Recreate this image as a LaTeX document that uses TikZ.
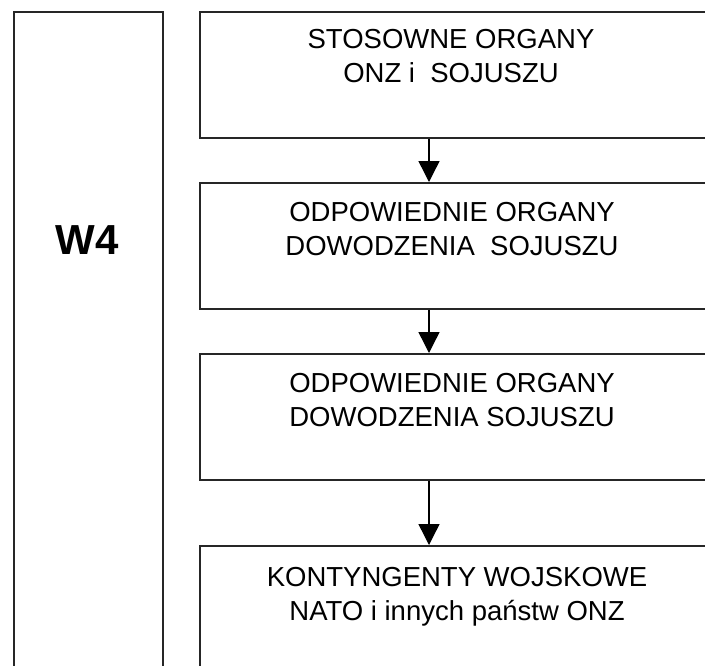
\documentclass[tikz,border=0pt]{standalone}
\usepackage{fontspec}
\setmainfont{Liberation Sans}
\usetikzlibrary{arrows.meta}
\begin{document}
\begin{tikzpicture}[x=1pt,y=-1pt,
  box/.style={draw=black!85, line width=1.6pt, rectangle, inner sep=0pt, anchor=north west, minimum width=560pt},
  lbl/.style={align=center, font=\fontsize{27.5}{34}\selectfont, inner sep=0pt},
  arr/.style={line width=1.4pt, -{Triangle[width=21pt,length=21pt]}}]
\useasboundingbox (0,0) rectangle (705,665);
\clip (0,0) rectangle (705,665);
\node[box, minimum width=149pt, minimum height=720pt] (left) at (13,11) {};
\node[box, minimum height=126pt] (b1) at (199,11) {};
\node[box, minimum height=126pt] (b2) at (199,182) {};
\node[box, minimum height=126pt] (b3) at (199,353) {};
\node[box, minimum height=200pt] (b4) at (199,545) {};
\node[font=\fontsize{42}{48}\selectfont\bfseries, inner sep=0pt] (w4) at (87.5,240) {W4};
\node[lbl] (t1) at (451,56) {STOSOWNE ORGANY\\ONZ i\ \ SOJUSZU};
\node[lbl] (t2) at (452,229) {ODPOWIEDNIE ORGANY\\DOWODZENIA\ \ SOJUSZU};
\node[lbl] (t3) at (452,400) {ODPOWIEDNIE ORGANY\\DOWODZENIA SOJUSZU};
\node[lbl] (t4) at (457,597) {KONTYNGENTY WOJSKOWE\\NATO i innych państw ONZ};
\coordinate (ax) at (429,0);
\draw[arr] (b1.south -| ax) -- (b2.north -| ax);
\draw[arr] (b2.south -| ax) -- (b3.north -| ax);
\draw[arr] (b3.south -| ax) -- (b4.north -| ax);
\end{tikzpicture}
\end{document}
